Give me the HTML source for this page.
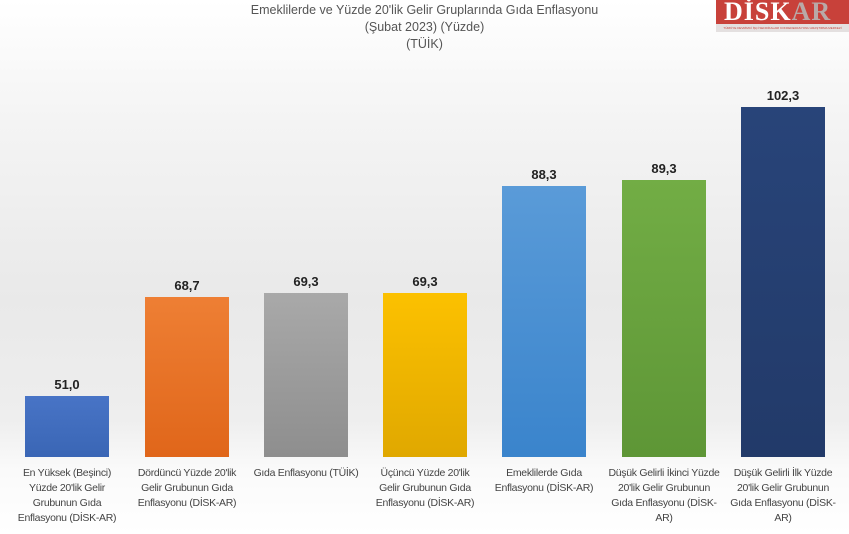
<!DOCTYPE html>
<html><head><meta charset="utf-8"><style>
body{margin:0;width:849px;height:534px;overflow:hidden;position:relative;font-family:"Liberation Sans",sans-serif;
background:linear-gradient(to bottom,#ffffff 0px,#f4f4f4 120px,#e9e9e9 300px,#eeeeee 420px,#fafafa 470px,#ffffff 534px);}
.t{position:absolute;left:0;width:849px;text-align:center;color:#555;font-size:12.5px;line-height:17px;top:2px}
.b{position:absolute;width:84px;bottom:77px}
.v{position:absolute;width:84px;text-align:center;font-size:13px;color:#222;font-weight:bold}
.l{position:absolute;width:130px;text-align:center;font-size:10.5px;line-height:15px;color:#444;top:466px;white-space:nowrap;letter-spacing:-0.3px}
</style></head><body>
<div class="t">Emeklilerde ve Yüzde 20'lik Gelir Gruplarında Gıda Enflasyonu<br>(Şubat 2023) (Yüzde)<br>(TÜİK)</div>
<div style="position:absolute;left:716px;top:0;width:133px;height:24px;background:#c8413a;color:#fff;font:bold 26px 'Liberation Serif',serif;line-height:24px;padding-left:8px;box-sizing:border-box;letter-spacing:1px">DİSK<span style="color:#b9a9a7">AR</span></div>
<div style="position:absolute;left:716px;top:24px;width:133px;height:8px;background:#e4e0e0;font-size:3px;color:#c8413a;text-align:center;line-height:8px;white-space:nowrap;overflow:hidden">TÜRKİYE DEVRİMCİ İŞÇİ SENDİKALARI KONFEDERASYONU ARAŞTIRMA MERKEZİ</div>

<div class="b" style="left:25px;top:396px;background:linear-gradient(#4874c6,#3a66b5)"></div>
<div class="b" style="left:145px;top:297px;background:linear-gradient(#ee7f34,#e0661a)"></div>
<div class="b" style="left:264px;top:293px;background:linear-gradient(#a9a9a9,#8e8e8e)"></div>
<div class="b" style="left:383px;top:293px;background:linear-gradient(#fcc100,#e0a800)"></div>
<div class="b" style="left:502px;top:186px;background:linear-gradient(#5a9bd8,#3a84cc)"></div>
<div class="b" style="left:622px;top:180px;background:linear-gradient(#72ad45,#5e9636)"></div>
<div class="b" style="left:741px;top:107px;background:linear-gradient(#284479,#223a69)"></div>

<div class="v" style="left:25px;top:377px">51,0</div>
<div class="v" style="left:145px;top:278px">68,7</div>
<div class="v" style="left:264px;top:274px">69,3</div>
<div class="v" style="left:383px;top:274px">69,3</div>
<div class="v" style="left:502px;top:167px">88,3</div>
<div class="v" style="left:622px;top:161px">89,3</div>
<div class="v" style="left:741px;top:88px">102,3</div>

<div class="l" style="left:2px">En Yüksek (Beşinci)<br>Yüzde 20'lik Gelir<br>Grubunun Gıda<br>Enflasyonu (DİSK-AR)</div>
<div class="l" style="left:122px">Dördüncü Yüzde 20'lik<br>Gelir Grubunun Gıda<br>Enflasyonu (DİSK-AR)</div>
<div class="l" style="left:241px">Gıda Enflasyonu (TÜİK)</div>
<div class="l" style="left:360px">Üçüncü Yüzde 20'lik<br>Gelir Grubunun Gıda<br>Enflasyonu (DİSK-AR)</div>
<div class="l" style="left:479px">Emeklilerde Gıda<br>Enflasyonu (DİSK-AR)</div>
<div class="l" style="left:599px">Düşük Gelirli İkinci Yüzde<br>20'lik Gelir Grubunun<br>Gıda Enflasyonu (DİSK-<br>AR)</div>
<div class="l" style="left:718px">Düşük Gelirli İlk Yüzde<br>20'lik Gelir Grubunun<br>Gıda Enflasyonu (DİSK-<br>AR)</div>
</body></html>
